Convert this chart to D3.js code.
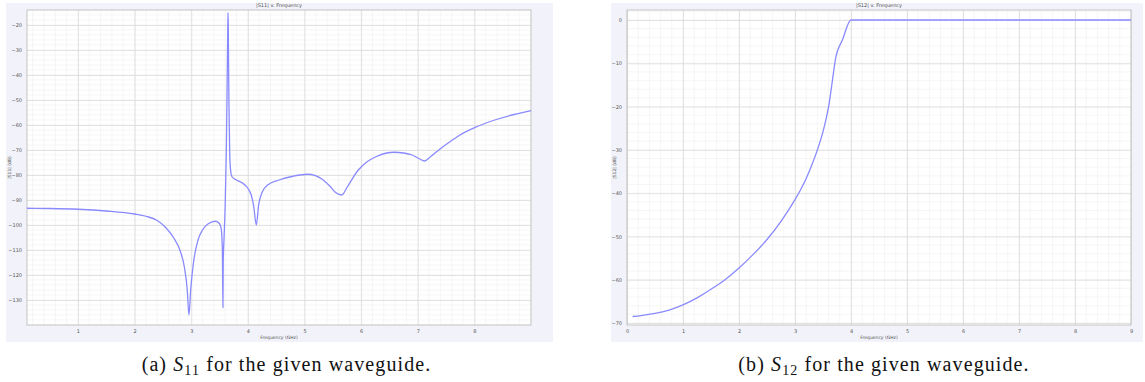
<!DOCTYPE html>
<html>
<head>
<meta charset="utf-8">
<script src="https://cdn.jsdelivr.net/npm/d3@7"></script>
<style>
  body { margin: 0; background: #fff; }
  svg { display: block; }
  .tick text { font-family: "DejaVu Sans", sans-serif; font-size: 5px; fill: #555; }
</style>
</head>
<body>
<svg id="chart" width="1145" height="382"></svg>
<script>
// |S11| data (GHz, dB)
const s11Freq = [0.1, 0.5, 1.0, 1.5, 2.0, 2.2, 2.4, 2.55, 2.7, 2.8, 2.88, 2.93, 2.96, 2.99, 3.04, 3.12, 3.2, 3.3, 3.43, 3.5, 3.53, 3.55, 3.56, 3.565, 3.58, 3.6, 3.62, 3.635, 3.645, 3.65, 3.655, 3.665, 3.68, 3.7, 3.72, 3.8, 3.91, 4.0, 4.06, 4.1, 4.15, 4.19, 4.25, 4.35, 4.55, 4.8, 5.06, 5.3, 5.45, 5.55, 5.66, 5.75, 5.95, 6.1, 6.26, 6.45, 6.58, 6.75, 6.9, 7.02, 7.12, 7.22, 7.41, 7.6, 7.73, 8.04, 8.36, 8.7, 9.0];
const s11Mag = [-93.3, -93.4, -93.7, -94.4, -95.6, -96.5, -98.2, -101, -105.5, -110, -117, -126, -136, -126, -115, -106, -102, -99.5, -98.5, -99.5, -101.5, -110, -133, -115, -105, -92, -70, -42, -22, -15, -22, -50, -72, -79, -80.7, -82, -83.3, -85.3, -88, -92, -100, -92, -87, -84, -82, -80.5, -79.7, -81.5, -84.5, -87, -88, -85, -78, -74.8, -72.7, -71.2, -70.9, -71.2, -72, -73.4, -74.4, -72.8, -69.3, -66.2, -64.2, -60.7, -58, -55.8, -54.2];

// |S12| data (GHz, dB)
const s12Freq = [0.1, 0.25, 0.5, 0.75, 1.0, 1.25, 1.5, 1.75, 2.0, 2.25, 2.5, 2.75, 3.0, 3.1, 3.2, 3.3, 3.4, 3.5, 3.6, 3.7, 3.72, 3.85, 4.0, 5.0, 6.0, 7.0, 8.0, 9.0];
const s12Mag = [-68.5, -68.3, -67.8, -67.0, -65.8, -64.2, -62.2, -60.0, -57.3, -54.2, -50.7, -46.5, -41.5, -39.2, -36.6, -33.5, -30.0, -25.8, -20.0, -11.0, -9.2, -4.5, 0, 0, 0, 0, 0, 0];

const s11XTicks = [1, 2, 3, 4, 5, 6, 7, 8];
const s11YTicks = [-20, -30, -40, -50, -60, -70, -80, -90, -100, -110, -120, -130];
const s12XTicks = [0, 1, 2, 3, 4, 5, 6, 7, 8, 9];
const s12YTicks = [0, -10, -20, -30, -40, -50, -60, -70];

const svg = d3.select("#chart");

function drawPanel(cfg) {
  const g = svg.append("g");
  const x = d3.scaleLinear().domain(cfg.xDomain).range([cfg.left, cfg.right]);
  const y = d3.scaleLinear().domain(cfg.yDomain).range([cfg.top, cfg.bottom]);

  // panel background
  g.append("rect")
    .attr("x", cfg.panel[0]).attr("y", cfg.panel[1])
    .attr("width", cfg.panel[2] - cfg.panel[0]).attr("height", cfg.panel[3] - cfg.panel[1])
    .attr("fill", "#f2f3fa");
  g.append("rect")
    .attr("x", cfg.left).attr("y", cfg.top)
    .attr("width", cfg.right - cfg.left).attr("height", cfg.bottom - cfg.top)
    .attr("fill", "#fff");

  // minor grid
  const xMinor = d3.range(Math.ceil(cfg.xDomain[0] * 5), Math.floor(cfg.xDomain[1] * 5) + 1).map(d => d / 5);
  const yMinor = d3.range(Math.ceil(cfg.yDomain[1] / 2), Math.floor(cfg.yDomain[0] / 2) + 1).map(d => d * 2);
  g.selectAll(".xminor").data(xMinor).join("line")
    .attr("x1", d => x(d)).attr("x2", d => x(d)).attr("y1", cfg.top).attr("y2", cfg.bottom)
    .attr("stroke", "#f0f0f0").attr("stroke-width", 0.6);
  g.selectAll(".yminor").data(yMinor).join("line")
    .attr("y1", d => y(d)).attr("y2", d => y(d)).attr("x1", cfg.left).attr("x2", cfg.right)
    .attr("stroke", "#f0f0f0").attr("stroke-width", 0.6);

  // major grid
  g.append("g")
    .attr("transform", `translate(0,${cfg.bottom})`)
    .call(d3.axisBottom(x).tickValues(cfg.xTicks).tickSize(-(cfg.bottom - cfg.top)).tickPadding(4).tickFormat(d3.format("d")))
    .call(a => a.select(".domain").remove())
    .call(a => a.selectAll(".tick line").attr("stroke", "#dcdcdc").attr("stroke-width", 0.8));
  g.append("g")
    .attr("transform", `translate(${cfg.left},0)`)
    .call(d3.axisLeft(y).tickValues(cfg.yTicks).tickSize(-(cfg.right - cfg.left)).tickPadding(5).tickFormat(d3.format("d")))
    .call(a => a.select(".domain").remove())
    .call(a => a.selectAll(".tick line").attr("stroke", "#dcdcdc").attr("stroke-width", 0.8));

  // frame
  g.append("rect")
    .attr("x", cfg.left).attr("y", cfg.top)
    .attr("width", cfg.right - cfg.left).attr("height", cfg.bottom - cfg.top)
    .attr("fill", "none").attr("stroke", "#b8b8b8").attr("stroke-width", 0.8);

  // curve
  const line = d3.line()
    .x((d, i) => x(cfg.freq[i]))
    .y(d => y(d))
    .curve(d3.curveMonotoneX);
  g.append("path")
    .datum(cfg.mag)
    .attr("d", line)
    .attr("fill", "none")
    .attr("stroke", "#8a8aff")
    .attr("stroke-width", 1.3);

  // titles
  const cx = (cfg.left + cfg.right) / 2;
  g.append("text").attr("x", cx).attr("y", cfg.top - 3)
    .attr("text-anchor", "middle")
    .style("font-family", "DejaVu Sans").style("font-size", "5px").style("fill", "#555")
    .text(cfg.title);
  g.append("text").attr("x", cx).attr("y", cfg.bottom + 14)
    .attr("text-anchor", "middle")
    .style("font-family", "DejaVu Sans").style("font-size", "4.5px").style("fill", "#555")
    .text("Frequency (GHz)");
  g.append("text")
    .attr("transform", `translate(${cfg.panel[0] + 5},${(cfg.top + cfg.bottom) / 2}) rotate(-90)`)
    .attr("text-anchor", "middle")
    .style("font-family", "DejaVu Sans").style("font-size", "4.5px").style("fill", "#555")
    .text(cfg.yLabel);

  // caption
  const cap = svg.append("text")
    .attr("x", (cfg.panel[0] + cfg.panel[2]) / 2 + 7).attr("y", 371)
    .attr("text-anchor", "middle")
    .style("font-family", "Liberation Serif").style("font-size", "20px")
    .style("letter-spacing", "1.1px").style("fill", "#111");
  cap.append("tspan").text(cfg.captionPre + " ");
  cap.append("tspan").style("font-style", "italic").text("S");
  cap.append("tspan").attr("dy", 4).style("font-size", "14px").text(cfg.captionSub);
  cap.append("tspan").attr("dy", -4).text(" for the given waveguide.");
}

drawPanel({
  panel: [6, 3, 553, 342],
  left: 27, right: 531, top: 10, bottom: 325,
  xDomain: [0.1, 9], yDomain: [-14, -140],
  xTicks: s11XTicks, yTicks: s11YTicks,
  freq: s11Freq, mag: s11Mag,
  title: "|S11| v. Frequency", yLabel: "|S11| (dB)",
  captionPre: "(a)", captionSub: "11"
});

drawPanel({
  panel: [611, 3, 1143, 342],
  left: 627, right: 1131, top: 10, bottom: 325,
  xDomain: [0, 9], yDomain: [2.31, -70.46],
  xTicks: s12XTicks, yTicks: s12YTicks,
  freq: s12Freq, mag: s12Mag,
  title: "|S12| v. Frequency", yLabel: "|S12| (dB)",
  captionPre: "(b)", captionSub: "12"
});
</script>
</body>
</html>
